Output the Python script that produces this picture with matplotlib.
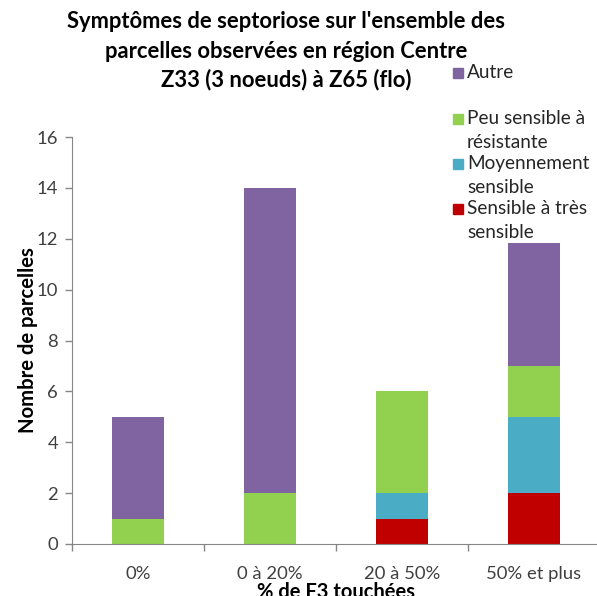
import matplotlib.pyplot as plt
from matplotlib.patches import Rectangle

plt.rcParams['font.family'] = ['Lato', 'DejaVu Sans']

# data
categories = ['0%', '0 à 20%', '20 à 50%', '50% et plus']
series_names = ['Sensible à très\nsensible', 'Moyennement\nsensible',
                'Peu sensible à\nrésistante', 'Autre']
sensible = [0, 0, 1, 2]
moyen = [0, 0, 1, 3]
peu = [1, 2, 4, 2]
autre = [4, 12, 0, 4.85]
colors = ['#C00000', '#4BACC6', '#92D050', '#8064A2']
title_lines = ["Symptômes de septoriose sur l'ensemble des",
               "parcelles observées en région Centre",
               "Z33 (3 noeuds) à Z65 (flo)"]

W, H = 597, 596
fig = plt.figure(figsize=(W / 100, H / 100), dpi=100)
ax = fig.add_axes([72 / W, 1 - 544 / H, (600 - 72) / W, (544 - 137) / H])

x = list(range(len(categories)))
bottom = [0] * len(categories)
for vals, c in zip([sensible, moyen, peu, autre], colors):
    ax.bar(x, vals, width=0.4, bottom=bottom, color=c, edgecolor='none')
    bottom = [b + v for b, v in zip(bottom, vals)]

ax.set_xlim(-0.5, 3.5)
ax.set_ylim(0, 16)
ax.set_yticks(range(0, 17, 2))
ax.set_xticks(x)
ax.set_xticklabels(categories)
ax.set_xticks([-0.5, 0.5, 1.5, 2.5], minor=True)
ax.tick_params(axis='x', which='major', length=0, pad=16, labelsize=13.3, colors='#404040')
ax.tick_params(axis='x', which='minor', length=5, color='#868686', width=1)
ax.tick_params(axis='y', length=5, color='#868686', width=1, labelsize=13.3,
               labelcolor='#404040', pad=5)
for s in ['top', 'right']:
    ax.spines[s].set_visible(False)
for s in ['left', 'bottom']:
    ax.spines[s].set_color('#868686')

ax.set_ylabel('Nombre de parcelles', fontsize=14.6, fontweight='bold', va='center')
ax.yaxis.set_label_coords((28 - 72) / 528, 0.5)
ax.set_xlabel('% de F3 touchées', fontsize=14.5, fontweight='bold', va='top')
ax.xaxis.set_label_coords(0.5, (544 - 582) / 407)

# title, one line at a time
for i, line in enumerate(title_lines):
    fig.text(286 / W, 1 - (22 + i * 29) / H, line, ha='center', va='center',
             fontsize=15.8, fontweight='bold')

# legend, laid out like the original (top entry first)
ys = [73, 119, 164, 209]
for name, c, y in zip(series_names[::-1], colors[::-1], ys):
    fig.patches.append(Rectangle((453 / W, 1 - (y + 5) / H), 10 / W, 10 / H,
                                 transform=fig.transFigure, color=c, figure=fig))
    for i, line in enumerate(name.split('\n')):
        fig.text(467 / W, 1 - (y + i * 23.5) / H, line, ha='left', va='center',
                 fontsize=13.7, color='#262626')

fig.savefig('out.png', dpi=100)
